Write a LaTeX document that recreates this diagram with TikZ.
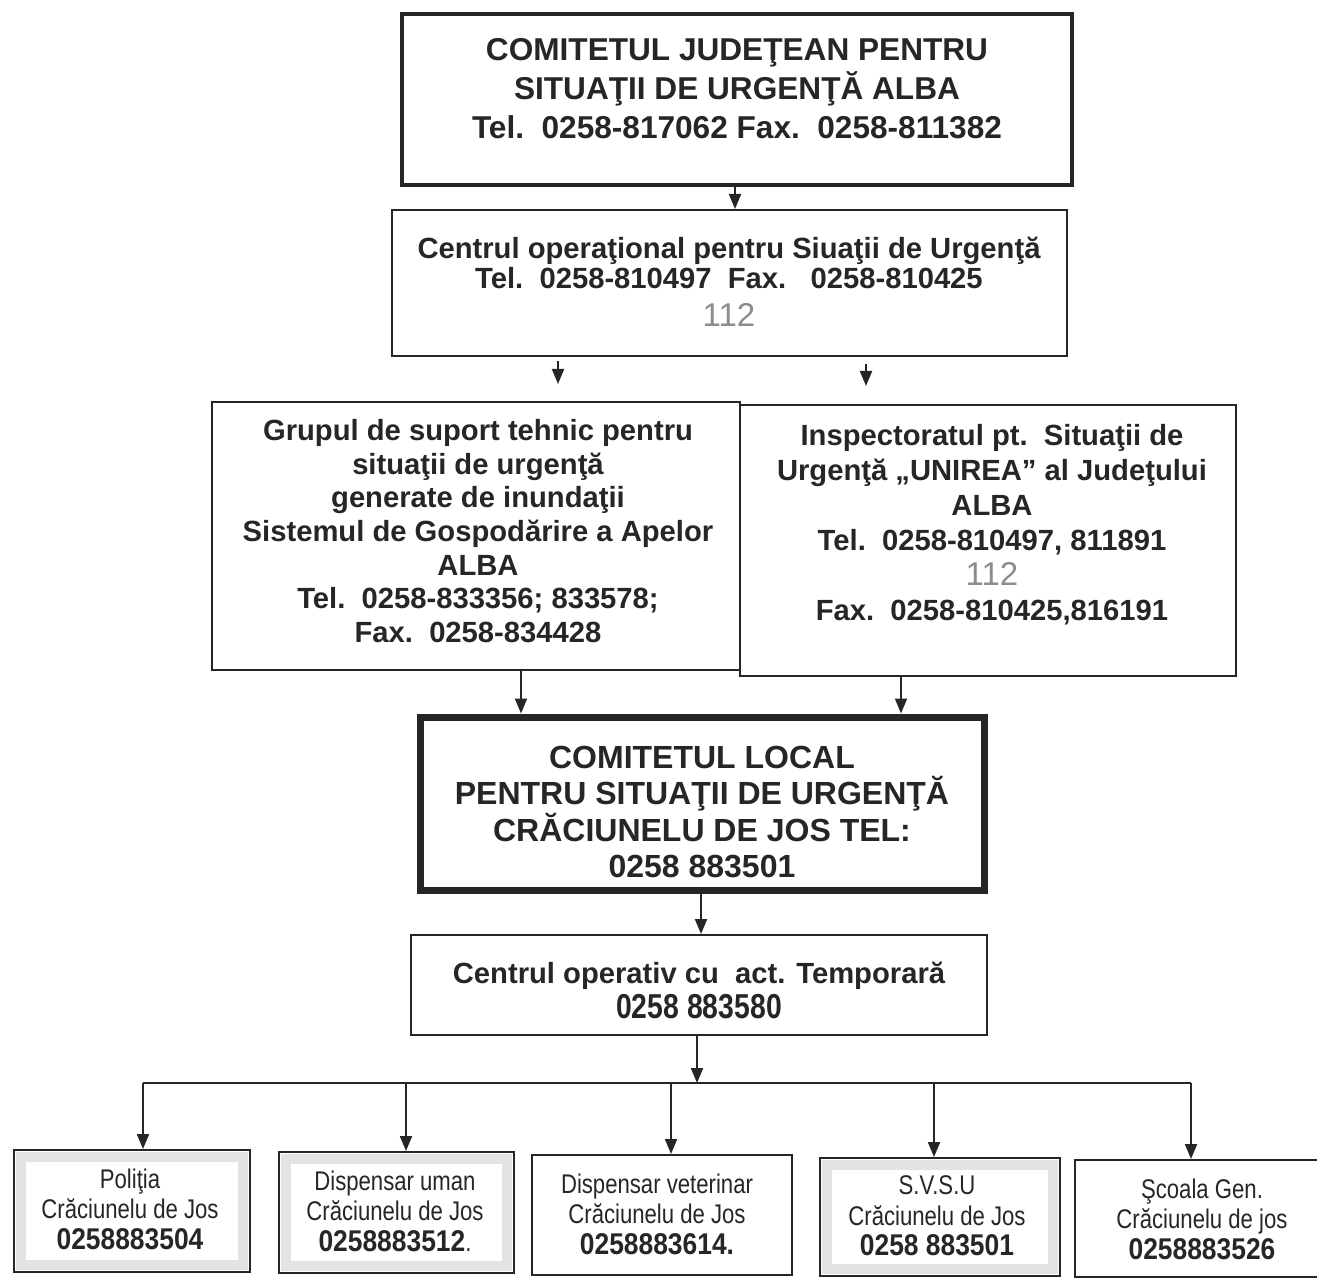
\documentclass[tikz,border=0pt]{standalone}
\usepackage{fontspec}
\setmainfont{Liberation Sans}
\newfontfamily\narrowfont[FakeStretch=0.82]{Liberation Sans}
\newfontfamily\semifont[FakeStretch=0.88]{Liberation Sans}
\usetikzlibrary{arrows.meta}

\begin{document}
\begin{tikzpicture}[x=0.5pt,y=-0.5pt,>={Triangle[length=7.5pt,width=6pt]},
color=black!85,line width=1pt,
every node/.style={inner sep=0pt},
frame/.style 2 args={draw=black!85,line width=1pt,minimum width=#1,minimum height=#2},
thickframe/.style 2 args={frame={#1}{#2},line width=1.7pt},
heavyframe/.style 2 args={frame={#1}{#2},line width=3.5pt},
greyframe/.style 2 args={frame={#1}{#2},
  path picture={\draw[black!11,line width=5pt]
    ([shift={(3.5pt,-3.5pt)}]path picture bounding box.north west) rectangle
    ([shift={(-3.5pt,3.5pt)}]path picture bounding box.south east);}},
txt/.style={align=center,text=black!85},
headtxt/.style={txt,font=\bfseries\fontsize{15.8}{19.5}\selectfont},
midtxt/.style={txt,font=\bfseries\fontsize{14.6}{#1}\selectfont},
localtxt/.style={txt,font=\bfseries\fontsize{16}{18.2}\selectfont},
smalltxt/.style={txt,font=\narrowfont\fontsize{13.5}{15.3}\selectfont}]

\fill[white,use as bounding box] (0,0) rectangle (1317,1278);
\clip (0,0) rectangle (1317,1278);

\newcommand{\urgent}{{\color{black!45}\mdseries\fontsize{16.5}{16.5}\selectfont 112}}
\newcommand{\phone}[1]{{\semifont\bfseries\fontsize{15}{15}\selectfont #1}}

% boxes
\node[thickframe={335pt}{85.5pt}] (jud) at (737,99.5) {};
\node[frame={337.5pt}{73pt}] (cop) at (729.5,283) {};
\node[frame={264pt}{134pt}] (grp) at (476,536) {};
\node[frame={248pt}{135.5pt}] (isp) at (988,540.5) {};
\node[heavyframe={282pt}{86.5pt}] (loc) at (702,803.5) {};
\node[frame={288pt}{50pt}] (opv) at (699,985) {};

\node[greyframe={118pt}{61pt}] (pol) at (132,1211) {};
\node[greyframe={117.5pt}{60.5pt}] (dum) at (396.5,1212.5) {};
\node[frame={130pt}{60pt}] (dvt) at (662,1215) {};
\node[greyframe={120pt}{59pt}] (svs) at (940,1217) {};
\node[frame={127.5pt}{58.5pt}] (sco) at (1202.5,1218.5) {};

% texts
\node[headtxt] (judtxt) at (737,89) {COMITETUL JUDEŢEAN PENTRU\\SITUAŢII DE URGENŢĂ ALBA\\
  Tel.\ \ 0258-817062 Fax.\ \ 0258-811382};
\node[midtxt=15] (coptxt) at (729,282) {Centrul operaţional pentru Siuaţii de Urgenţă\\
  Tel.\ \ 0258-810497\ \ Fax.\ \ \ 0258-810425\\[4pt]\urgent};
\node[midtxt=16.85] (grptxt) at (478,531) {Grupul de suport tehnic pentru\\situaţii de urgenţă\\
  generate de inundaţii\\Sistemul de Gospodărire a Apelor\\ALBA\\
  Tel.\ \ 0258-833356; 833578;\\Fax.\ \ 0258-834428};
\node[midtxt=17.5] (isptxt) at (992,525) {Inspectoratul pt.\ \ Situaţii de\\
  Urgenţă „UNIREA” al Judeţului\\ALBA\\Tel.\ \ 0258-810497, 811891\\\urgent\\
  Fax.\ \ 0258-810425,816191};
\node[localtxt] (loctxt) at (702,812) {COMITETUL LOCAL\\PENTRU SITUAŢII DE URGENŢĂ\\
  CRĂCIUNELU DE JOS TEL:\\0258 883501};
\node[midtxt=17.5] (opvtxt) at (699,990) {Centrul operativ cu\ \ act. Temporară\\
  {\narrowfont\fontsize{17.3}{17.3}\selectfont 0258 883580}};

\node[smalltxt] (poltxt) at (130,1209) {Poliţia\\Crăciunelu de Jos\\\phone{0258883504}};
\node[smalltxt] (dumtxt) at (395,1211) {Dispensar uman\\Crăciunelu de Jos\\\phone{0258883512}.};
\node[smalltxt] (dvttxt) at (657,1214) {Dispensar veterinar\\Crăciunelu de Jos\\\phone{0258883614.}};
\node[smalltxt] (svstxt) at (937,1216) {S.V.S.U\\Crăciunelu de Jos\\\phone{0258 883501}};
\node[smalltxt] (scotxt) at (1202,1219) {Şcoala Gen.\\Crăciunelu de jos\\\phone{0258883526}};

% connectors
\draw[->] (jud.south -| 735,0) -- (cop.north -| 735,0);
\draw[->,shorten <=2pt,shorten >=8.5pt] (cop.south -| 558,0) -- (grp.north -| 558,0);
\draw[->,shorten <=3.5pt,shorten >=9pt] (cop.south -| 866,0) -- (isp.north -| 866,0);
\draw[->] (grp.south -| 521,0) -- (loc.north -| 521,0);
\draw[->] (isp.south -| 901,0) -- (loc.north -| 901,0);
\draw[->] (loc.south -| 701,0) -- (opv.north -| 701,0);

\coordinate (bus) at (697,1083);
\coordinate (busl) at (143,1083);
\coordinate (busr) at (1191,1083);
\draw[->] (opv.south -| bus) -- (bus);
\draw (busl) -- (busr);
\foreach \b/\x in {pol/143,dum/406,dvt/671,svs/934,sco/1191}
  \draw[->] (busl -| \x,0) -- (\b.north -| \x,0);

\end{tikzpicture}
\end{document}
